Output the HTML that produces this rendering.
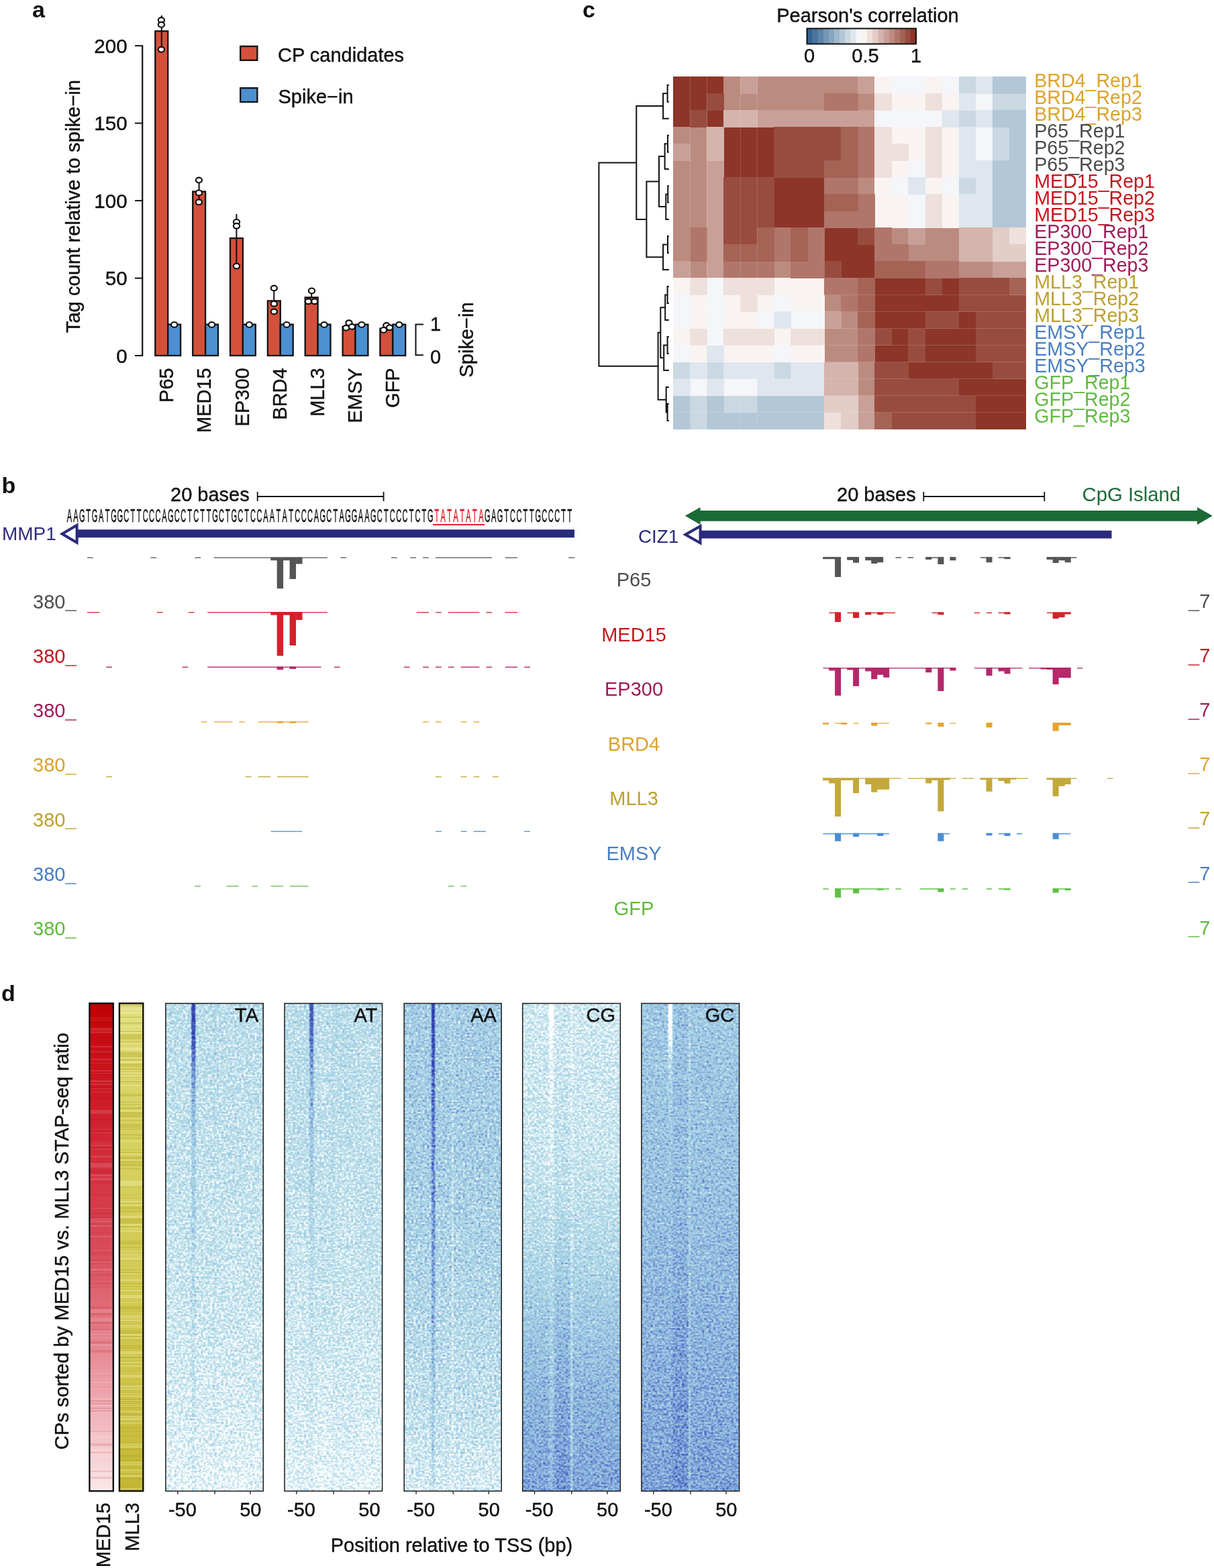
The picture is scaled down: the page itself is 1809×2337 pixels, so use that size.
<!DOCTYPE html>
<html lang="en"><head><meta charset="utf-8"><title>Figure</title>
<style>
html,body{margin:0;padding:0;background:#fff}
svg{display:block}
text{font-family:"Liberation Sans",Arial,Helvetica,sans-serif;stroke-width:0.4px}
</style></head>
<body>
<svg width="1809" height="2337" viewBox="0 0 1809 2337">
<defs>
<linearGradient id="gR" x1="0" y1="0" x2="0" y2="1"><stop offset="0" stop-color="#bf0000"/><stop offset="0.05" stop-color="#c50a10"/><stop offset="0.2" stop-color="#cc1c28"/><stop offset="0.35" stop-color="#d33242"/><stop offset="0.5" stop-color="#d94b5a"/><stop offset="0.6" stop-color="#df6672"/><stop offset="0.7" stop-color="#e68590"/><stop offset="0.8" stop-color="#eda5ad"/><stop offset="0.9" stop-color="#f4c6cb"/><stop offset="1" stop-color="#fbe8ea"/></linearGradient>
<linearGradient id="gY" x1="0" y1="0" x2="0" y2="1"><stop offset="0" stop-color="#e3e08a"/><stop offset="0.06" stop-color="#dcd870"/><stop offset="0.3" stop-color="#d6d060"/><stop offset="0.6" stop-color="#d2ca55"/><stop offset="0.85" stop-color="#cbc045"/><stop offset="1" stop-color="#c3b633"/></linearGradient>
<filter id="hf0" x="0" y="0" width="100%" height="100%" color-interpolation-filters="sRGB"><feTurbulence type="fractalNoise" baseFrequency="0.3 0.4" numOctaves="2" seed="3"/><feColorMatrix type="matrix" values="1 0 0 0 0 1 0 0 0 0 1 0 0 0 0 0 0 0 0 1" result="n"/><feTurbulence type="fractalNoise" baseFrequency="0.03 0.45" numOctaves="1" seed="53"/><feColorMatrix type="matrix" values="1 0 0 0 0 1 0 0 0 0 1 0 0 0 0 0 0 0 0 1" result="n2"/><feComposite in="n" in2="n2" operator="arithmetic" k1="0" k2="0.5" k3="0.1406" k4="0" result="ns"/><feComposite in="SourceGraphic" in2="ns" operator="arithmetic" k1="0" k2="1.2000" k3="2.1333" k4="-0.8833"/><feComponentTransfer><feFuncR type="table" tableValues="1 0.95 0.70 0.68 0.66 0.61 0.54 0.46 0.38 0.30 0.23 0.19 0.17"/><feFuncG type="table" tableValues="1 0.975 0.86 0.85 0.83 0.78 0.70 0.61 0.51 0.40 0.30 0.25 0.22"/><feFuncB type="table" tableValues="1 0.985 0.91 0.90 0.90 0.885 0.865 0.84 0.81 0.77 0.72 0.68 0.66"/></feComponentTransfer><feConvolveMatrix order="3" kernelMatrix="1 2 1 2 5 2 1 2 1" edgeMode="duplicate" preserveAlpha="true"/><feComposite in2="SourceAlpha" operator="in"/></filter>
<linearGradient id="gm0" x1="0" y1="0" x2="0" y2="1"><stop offset="0" stop-color="#585858"/><stop offset="0.3" stop-color="#525252"/><stop offset="0.6" stop-color="#4b4b4b"/><stop offset="0.85" stop-color="#404040"/><stop offset="1" stop-color="#363636"/></linearGradient>
<linearGradient id="gs0_0w" x1="0" y1="0" x2="0" y2="1"><stop offset="0" stop-color="#fff" stop-opacity="0.915"/><stop offset="0.08" stop-color="#fff" stop-opacity="0.79"/><stop offset="0.15" stop-color="#fff" stop-opacity="0.5"/><stop offset="0.24" stop-color="#fff" stop-opacity="0.257"/><stop offset="0.3" stop-color="#fff" stop-opacity="0.224"/><stop offset="0.5" stop-color="#fff" stop-opacity="0.122"/><stop offset="0.6" stop-color="#fff" stop-opacity="0.094"/><stop offset="0.85" stop-color="#fff" stop-opacity="0.056"/><stop offset="1" stop-color="#fff" stop-opacity="0.049"/></linearGradient>
<linearGradient id="gs0_1w" x1="0" y1="0" x2="0" y2="1"><stop offset="0" stop-color="#fff" stop-opacity="0.102"/><stop offset="0.3" stop-color="#fff" stop-opacity="0.067"/><stop offset="0.6" stop-color="#fff" stop-opacity="0.043"/><stop offset="0.85" stop-color="#fff" stop-opacity="0.051"/><stop offset="1" stop-color="#fff" stop-opacity="0.07"/></linearGradient>
<filter id="hf1" x="0" y="0" width="100%" height="100%" color-interpolation-filters="sRGB"><feTurbulence type="fractalNoise" baseFrequency="0.3 0.4" numOctaves="2" seed="8"/><feColorMatrix type="matrix" values="1 0 0 0 0 1 0 0 0 0 1 0 0 0 0 0 0 0 0 1" result="n"/><feTurbulence type="fractalNoise" baseFrequency="0.03 0.45" numOctaves="1" seed="58"/><feColorMatrix type="matrix" values="1 0 0 0 0 1 0 0 0 0 1 0 0 0 0 0 0 0 0 1" result="n2"/><feComposite in="n" in2="n2" operator="arithmetic" k1="0" k2="0.5" k3="0.1406" k4="0" result="ns"/><feComposite in="SourceGraphic" in2="ns" operator="arithmetic" k1="0" k2="1.2000" k3="2.1333" k4="-0.8833"/><feComponentTransfer><feFuncR type="table" tableValues="1 0.95 0.70 0.68 0.66 0.61 0.54 0.46 0.38 0.30 0.23 0.19 0.17"/><feFuncG type="table" tableValues="1 0.975 0.86 0.85 0.83 0.78 0.70 0.61 0.51 0.40 0.30 0.25 0.22"/><feFuncB type="table" tableValues="1 0.985 0.91 0.90 0.90 0.885 0.865 0.84 0.81 0.77 0.72 0.68 0.66"/></feComponentTransfer><feConvolveMatrix order="3" kernelMatrix="1 2 1 2 5 2 1 2 1" edgeMode="duplicate" preserveAlpha="true"/><feComposite in2="SourceAlpha" operator="in"/></filter>
<linearGradient id="gm1" x1="0" y1="0" x2="0" y2="1"><stop offset="0" stop-color="#595959"/><stop offset="0.3" stop-color="#545454"/><stop offset="0.6" stop-color="#4c4c4c"/><stop offset="0.85" stop-color="#414141"/><stop offset="1" stop-color="#373737"/></linearGradient>
<linearGradient id="gs1_0w" x1="0" y1="0" x2="0" y2="1"><stop offset="0" stop-color="#fff" stop-opacity="0.786"/><stop offset="0.07" stop-color="#fff" stop-opacity="0.661"/><stop offset="0.15" stop-color="#fff" stop-opacity="0.37"/><stop offset="0.3" stop-color="#fff" stop-opacity="0.217"/><stop offset="0.4" stop-color="#fff" stop-opacity="0.12"/><stop offset="0.6" stop-color="#fff" stop-opacity="0.071"/><stop offset="0.85" stop-color="#fff" stop-opacity="0.043"/><stop offset="1" stop-color="#fff" stop-opacity="0.043"/></linearGradient>
<linearGradient id="gs1_1w" x1="0" y1="0" x2="0" y2="1"><stop offset="0" stop-color="#fff" stop-opacity="0.103"/><stop offset="0.3" stop-color="#fff" stop-opacity="0.068"/><stop offset="0.6" stop-color="#fff" stop-opacity="0.043"/><stop offset="0.85" stop-color="#fff" stop-opacity="0.051"/><stop offset="1" stop-color="#fff" stop-opacity="0.071"/></linearGradient>
<filter id="hf2" x="0" y="0" width="100%" height="100%" color-interpolation-filters="sRGB"><feTurbulence type="fractalNoise" baseFrequency="0.3 0.4" numOctaves="2" seed="13"/><feColorMatrix type="matrix" values="1 0 0 0 0 1 0 0 0 0 1 0 0 0 0 0 0 0 0 1" result="n"/><feTurbulence type="fractalNoise" baseFrequency="0.03 0.45" numOctaves="1" seed="63"/><feColorMatrix type="matrix" values="1 0 0 0 0 1 0 0 0 0 1 0 0 0 0 0 0 0 0 1" result="n2"/><feComposite in="n" in2="n2" operator="arithmetic" k1="0" k2="0.5" k3="0.1184" k4="0" result="ns"/><feComposite in="SourceGraphic" in2="ns" operator="arithmetic" k1="0" k2="1.2000" k3="2.5333" k4="-0.9833"/><feComponentTransfer><feFuncR type="table" tableValues="1 0.95 0.70 0.68 0.66 0.61 0.54 0.46 0.38 0.30 0.23 0.19 0.17"/><feFuncG type="table" tableValues="1 0.975 0.86 0.85 0.83 0.78 0.70 0.61 0.51 0.40 0.30 0.25 0.22"/><feFuncB type="table" tableValues="1 0.985 0.91 0.90 0.90 0.885 0.865 0.84 0.81 0.77 0.72 0.68 0.66"/></feComponentTransfer><feConvolveMatrix order="3" kernelMatrix="1 2 1 2 5 2 1 2 1" edgeMode="duplicate" preserveAlpha="true"/><feComposite in2="SourceAlpha" operator="in"/></filter>
<linearGradient id="gm2" x1="0" y1="0" x2="0" y2="1"><stop offset="0" stop-color="#717171"/><stop offset="0.3" stop-color="#717171"/><stop offset="0.6" stop-color="#636363"/><stop offset="0.85" stop-color="#515151"/><stop offset="1" stop-color="#414141"/></linearGradient>
<linearGradient id="gs2_0w" x1="0" y1="0" x2="0" y2="1"><stop offset="0" stop-color="#fff" stop-opacity="0.95"/><stop offset="0.1" stop-color="#fff" stop-opacity="0.8"/><stop offset="0.25" stop-color="#fff" stop-opacity="0.55"/><stop offset="0.3" stop-color="#fff" stop-opacity="0.51"/><stop offset="0.5" stop-color="#fff" stop-opacity="0.391"/><stop offset="0.6" stop-color="#fff" stop-opacity="0.318"/><stop offset="0.85" stop-color="#fff" stop-opacity="0.187"/><stop offset="1" stop-color="#fff" stop-opacity="0.142"/></linearGradient>
<linearGradient id="gs2_1k" x1="0" y1="0" x2="0" y2="1"><stop offset="0" stop-color="#000" stop-opacity="0.125"/><stop offset="0.3" stop-color="#000" stop-opacity="0.245"/><stop offset="0.6" stop-color="#000" stop-opacity="0.274"/><stop offset="0.85" stop-color="#000" stop-opacity="0.249"/><stop offset="1" stop-color="#000" stop-opacity="0.174"/></linearGradient>
<filter id="hf3" x="0" y="0" width="100%" height="100%" color-interpolation-filters="sRGB"><feTurbulence type="fractalNoise" baseFrequency="0.3 0.4" numOctaves="2" seed="21"/><feColorMatrix type="matrix" values="1 0 0 0 0 1 0 0 0 0 1 0 0 0 0 0 0 0 0 1" result="n"/><feTurbulence type="fractalNoise" baseFrequency="0.03 0.45" numOctaves="1" seed="71"/><feColorMatrix type="matrix" values="1 0 0 0 0 1 0 0 0 0 1 0 0 0 0 0 0 0 0 1" result="n2"/><feComposite in="n" in2="n2" operator="arithmetic" k1="0" k2="0.5" k3="0.1406" k4="0" result="ns"/><feComposite in="SourceGraphic" in2="ns" operator="arithmetic" k1="0" k2="1.2000" k3="2.1333" k4="-0.8833"/><feComponentTransfer><feFuncR type="table" tableValues="1 0.95 0.70 0.68 0.66 0.61 0.54 0.46 0.38 0.30 0.23 0.19 0.17"/><feFuncG type="table" tableValues="1 0.975 0.86 0.85 0.83 0.78 0.70 0.61 0.51 0.40 0.30 0.25 0.22"/><feFuncB type="table" tableValues="1 0.985 0.91 0.90 0.90 0.885 0.865 0.84 0.81 0.77 0.72 0.68 0.66"/></feComponentTransfer><feConvolveMatrix order="3" kernelMatrix="1 2 1 2 5 2 1 2 1" edgeMode="duplicate" preserveAlpha="true"/><feComposite in2="SourceAlpha" operator="in"/></filter>
<linearGradient id="gm3" x1="0" y1="0" x2="0" y2="1"><stop offset="0" stop-color="#474747"/><stop offset="0.3" stop-color="#4b4b4b"/><stop offset="0.5" stop-color="#5e5e5e"/><stop offset="0.65" stop-color="#787878"/><stop offset="0.8" stop-color="#8e8e8e"/><stop offset="1" stop-color="#9c9c9c"/></linearGradient>
<linearGradient id="gs3_0k" x1="0" y1="0" x2="0" y2="1"><stop offset="0" stop-color="#000" stop-opacity="1.0"/><stop offset="0.06" stop-color="#000" stop-opacity="0.605"/><stop offset="0.12" stop-color="#000" stop-opacity="0.297"/><stop offset="0.3" stop-color="#000" stop-opacity="0.151"/><stop offset="0.45" stop-color="#000" stop-opacity="0.112"/><stop offset="0.5" stop-color="#000" stop-opacity="0.094"/><stop offset="0.65" stop-color="#000" stop-opacity="0.155"/><stop offset="0.8" stop-color="#000" stop-opacity="0.161"/><stop offset="1" stop-color="#000" stop-opacity="0.091"/></linearGradient>
<linearGradient id="gs3_1w" x1="0" y1="0" x2="0" y2="1"><stop offset="0" stop-color="#fff" stop-opacity="0.0"/><stop offset="0.3" stop-color="#fff" stop-opacity="0.044"/><stop offset="0.4" stop-color="#fff" stop-opacity="0.017"/><stop offset="0.5" stop-color="#fff" stop-opacity="0.07"/><stop offset="0.65" stop-color="#fff" stop-opacity="0.082"/><stop offset="0.7" stop-color="#fff" stop-opacity="0.1"/><stop offset="0.8" stop-color="#fff" stop-opacity="0.071"/><stop offset="1" stop-color="#fff" stop-opacity="0.129"/></linearGradient>
<linearGradient id="gs3_2k" x1="0" y1="0" x2="0" y2="1"><stop offset="0" stop-color="#000" stop-opacity="0.28"/><stop offset="0.3" stop-color="#000" stop-opacity="0.14"/><stop offset="0.5" stop-color="#000" stop-opacity="0.212"/><stop offset="0.65" stop-color="#000" stop-opacity="0.289"/><stop offset="0.8" stop-color="#000" stop-opacity="0.312"/><stop offset="1" stop-color="#000" stop-opacity="0.273"/></linearGradient>
<filter id="hf4" x="0" y="0" width="100%" height="100%" color-interpolation-filters="sRGB"><feTurbulence type="fractalNoise" baseFrequency="0.3 0.4" numOctaves="2" seed="34"/><feColorMatrix type="matrix" values="1 0 0 0 0 1 0 0 0 0 1 0 0 0 0 0 0 0 0 1" result="n"/><feTurbulence type="fractalNoise" baseFrequency="0.03 0.45" numOctaves="1" seed="84"/><feColorMatrix type="matrix" values="1 0 0 0 0 1 0 0 0 0 1 0 0 0 0 0 0 0 0 1" result="n2"/><feComposite in="n" in2="n2" operator="arithmetic" k1="0" k2="0.5" k3="0.1406" k4="0" result="ns"/><feComposite in="SourceGraphic" in2="ns" operator="arithmetic" k1="0" k2="1.2000" k3="2.1333" k4="-0.8833"/><feComponentTransfer><feFuncR type="table" tableValues="1 0.95 0.70 0.68 0.66 0.61 0.54 0.46 0.38 0.30 0.23 0.19 0.17"/><feFuncG type="table" tableValues="1 0.975 0.86 0.85 0.83 0.78 0.70 0.61 0.51 0.40 0.30 0.25 0.22"/><feFuncB type="table" tableValues="1 0.985 0.91 0.90 0.90 0.885 0.865 0.84 0.81 0.77 0.72 0.68 0.66"/></feComponentTransfer><feConvolveMatrix order="3" kernelMatrix="1 2 1 2 5 2 1 2 1" edgeMode="duplicate" preserveAlpha="true"/><feComposite in2="SourceAlpha" operator="in"/></filter>
<linearGradient id="gm4" x1="0" y1="0" x2="0" y2="1"><stop offset="0" stop-color="#787878"/><stop offset="0.4" stop-color="#818181"/><stop offset="0.7" stop-color="#909090"/><stop offset="1" stop-color="#9f9f9f"/></linearGradient>
<linearGradient id="gs4_0k" x1="0" y1="0" x2="0" y2="1"><stop offset="0" stop-color="#000" stop-opacity="1.0"/><stop offset="0.05" stop-color="#000" stop-opacity="0.942"/><stop offset="0.09" stop-color="#000" stop-opacity="0.537"/><stop offset="0.14" stop-color="#000" stop-opacity="0.196"/><stop offset="0.25" stop-color="#000" stop-opacity="0.068"/><stop offset="0.4" stop-color="#000" stop-opacity="0.032"/><stop offset="0.5" stop-color="#000" stop-opacity="0.032"/><stop offset="0.7" stop-color="#000" stop-opacity="0.022"/><stop offset="1" stop-color="#000" stop-opacity="0"/></linearGradient>
<linearGradient id="gs4_1w" x1="0" y1="0" x2="0" y2="1"><stop offset="0" stop-color="#fff" stop-opacity="0.042"/><stop offset="0.4" stop-color="#fff" stop-opacity="0.056"/><stop offset="0.7" stop-color="#fff" stop-opacity="0.115"/><stop offset="1" stop-color="#fff" stop-opacity="0.132"/></linearGradient>
<linearGradient id="gs4_2k" x1="0" y1="0" x2="0" y2="1"><stop offset="0" stop-color="#000" stop-opacity="0.235"/><stop offset="0.4" stop-color="#000" stop-opacity="0.189"/><stop offset="0.7" stop-color="#000" stop-opacity="0.212"/><stop offset="1" stop-color="#000" stop-opacity="0.223"/></linearGradient>
</defs>
<rect width="1809" height="2337" fill="#fff"/>
<g id="panel-a">
<text x="48" y="25.5" font-size="34" text-anchor="start" fill="#111" font-weight="bold">a</text>
<path d="M212.2 68.2V530.0" stroke="#111" stroke-width="2.2" fill="none"/>
<path d="M201 530.0H213.2" stroke="#111" stroke-width="2" fill="none"/>
<text x="189.7" y="540.6" font-size="29.6" text-anchor="end" fill="#111" stroke="#111">0</text>
<path d="M201 414.6H213.2" stroke="#111" stroke-width="2" fill="none"/>
<text x="189.7" y="425.2" font-size="29.6" text-anchor="end" fill="#111" stroke="#111">50</text>
<path d="M201 299.1H213.2" stroke="#111" stroke-width="2" fill="none"/>
<text x="189.7" y="309.7" font-size="29.6" text-anchor="end" fill="#111" stroke="#111">100</text>
<path d="M201 183.6H213.2" stroke="#111" stroke-width="2" fill="none"/>
<text x="189.7" y="194.2" font-size="29.6" text-anchor="end" fill="#111" stroke="#111">150</text>
<path d="M201 68.2H213.2" stroke="#111" stroke-width="2" fill="none"/>
<text x="189.7" y="78.8" font-size="29.6" text-anchor="end" fill="#111" stroke="#111">200</text>
<text x="119.4" y="307.6" font-size="29.2" text-anchor="middle" fill="#111" stroke="#111" transform="rotate(-90 119.4 307.6)">Tag count relative to spike−in</text>
<rect x="231.3" y="46.4" width="18.9" height="483.6" fill="#d3513b" stroke="#111" stroke-width="2.3"/>
<rect x="250.2" y="483.6" width="18.9" height="46.4" fill="#4c90d1" stroke="#111" stroke-width="2.3"/>
<path d="M240.8 23V73.8" stroke="#111" stroke-width="2"/>
<ellipse cx="240.4" cy="30" rx="4.6" ry="3.9" fill="#fff" stroke="#111" stroke-width="2.2"/>
<ellipse cx="240.4" cy="36.7" rx="4.6" ry="3.9" fill="#fff" stroke="#111" stroke-width="2.2"/>
<ellipse cx="240.4" cy="73.8" rx="4.6" ry="3.9" fill="#fff" stroke="#111" stroke-width="2.2"/>
<ellipse cx="259.7" cy="483.90000000000003" rx="4.6" ry="3.9" fill="#fff" stroke="#111" stroke-width="2.2"/>
<text x="258.3" y="548.3" font-size="29" text-anchor="end" fill="#111" stroke="#111" transform="rotate(-90 258.3 548.3)">P65</text>
<rect x="287.2" y="285.5" width="18.9" height="244.5" fill="#d3513b" stroke="#111" stroke-width="2.3"/>
<rect x="306.1" y="483.6" width="18.9" height="46.4" fill="#4c90d1" stroke="#111" stroke-width="2.3"/>
<path d="M296.6 268V301" stroke="#111" stroke-width="2"/>
<ellipse cx="296.4" cy="268.5" rx="4.6" ry="3.9" fill="#fff" stroke="#111" stroke-width="2.2"/>
<ellipse cx="296.4" cy="287.4" rx="4.6" ry="3.9" fill="#fff" stroke="#111" stroke-width="2.2"/>
<ellipse cx="296.4" cy="301.3" rx="4.6" ry="3.9" fill="#fff" stroke="#111" stroke-width="2.2"/>
<ellipse cx="315.5" cy="483.90000000000003" rx="4.6" ry="3.9" fill="#fff" stroke="#111" stroke-width="2.2"/>
<text x="314.5" y="548.3" font-size="29" text-anchor="end" fill="#111" stroke="#111" transform="rotate(-90 314.5 548.3)">MED15</text>
<rect x="343.0" y="355" width="18.9" height="175.0" fill="#d3513b" stroke="#111" stroke-width="2.3"/>
<rect x="361.9" y="483.6" width="18.9" height="46.4" fill="#4c90d1" stroke="#111" stroke-width="2.3"/>
<path d="M352.4 319V396.6" stroke="#111" stroke-width="2"/>
<ellipse cx="352.5" cy="330.9" rx="4.6" ry="3.9" fill="#fff" stroke="#111" stroke-width="2.2"/>
<ellipse cx="352.5" cy="336.8" rx="4.6" ry="3.9" fill="#fff" stroke="#111" stroke-width="2.2"/>
<ellipse cx="352.5" cy="396.6" rx="4.6" ry="3.9" fill="#fff" stroke="#111" stroke-width="2.2"/>
<ellipse cx="371.4" cy="483.90000000000003" rx="4.6" ry="3.9" fill="#fff" stroke="#111" stroke-width="2.2"/>
<text x="370.7" y="548.3" font-size="29" text-anchor="end" fill="#111" stroke="#111" transform="rotate(-90 370.7 548.3)">EP300</text>
<rect x="398.9" y="448.4" width="18.9" height="81.6" fill="#d3513b" stroke="#111" stroke-width="2.3"/>
<rect x="417.8" y="483.6" width="18.9" height="46.4" fill="#4c90d1" stroke="#111" stroke-width="2.3"/>
<path d="M408.3 429.5V448.4" stroke="#111" stroke-width="2"/>
<ellipse cx="408.3" cy="429.5" rx="4.6" ry="3.9" fill="#fff" stroke="#111" stroke-width="2.2"/>
<ellipse cx="408.3" cy="452.7" rx="4.6" ry="3.9" fill="#fff" stroke="#111" stroke-width="2.2"/>
<ellipse cx="408.3" cy="464.5" rx="4.6" ry="3.9" fill="#fff" stroke="#111" stroke-width="2.2"/>
<ellipse cx="427.2" cy="483.90000000000003" rx="4.6" ry="3.9" fill="#fff" stroke="#111" stroke-width="2.2"/>
<text x="426.9" y="548.3" font-size="29" text-anchor="end" fill="#111" stroke="#111" transform="rotate(-90 426.9 548.3)">BRD4</text>
<rect x="454.7" y="443.3" width="18.9" height="86.7" fill="#d3513b" stroke="#111" stroke-width="2.3"/>
<rect x="473.6" y="483.6" width="18.9" height="46.4" fill="#4c90d1" stroke="#111" stroke-width="2.3"/>
<path d="M464.2 433.4V443.3" stroke="#111" stroke-width="2"/>
<ellipse cx="464.5" cy="433.4" rx="4.6" ry="3.9" fill="#fff" stroke="#111" stroke-width="2.2"/>
<ellipse cx="459.4" cy="449.3" rx="4.6" ry="3.9" fill="#fff" stroke="#111" stroke-width="2.2"/>
<ellipse cx="468.8" cy="449.3" rx="4.6" ry="3.9" fill="#fff" stroke="#111" stroke-width="2.2"/>
<ellipse cx="483.1" cy="483.90000000000003" rx="4.6" ry="3.9" fill="#fff" stroke="#111" stroke-width="2.2"/>
<text x="483.1" y="548.3" font-size="29" text-anchor="end" fill="#111" stroke="#111" transform="rotate(-90 483.1 548.3)">MLL3</text>
<rect x="510.6" y="487" width="18.9" height="43.0" fill="#d3513b" stroke="#111" stroke-width="2.3"/>
<rect x="529.5" y="483.6" width="18.9" height="46.4" fill="#4c90d1" stroke="#111" stroke-width="2.3"/>
<ellipse cx="520" cy="481.2" rx="4.6" ry="3.9" fill="#fff" stroke="#111" stroke-width="2.2"/>
<ellipse cx="515.7" cy="488.7" rx="4.6" ry="3.9" fill="#fff" stroke="#111" stroke-width="2.2"/>
<ellipse cx="524.5" cy="487" rx="4.6" ry="3.9" fill="#fff" stroke="#111" stroke-width="2.2"/>
<ellipse cx="538.9" cy="483.90000000000003" rx="4.6" ry="3.9" fill="#fff" stroke="#111" stroke-width="2.2"/>
<text x="539.3" y="548.3" font-size="29" text-anchor="end" fill="#111" stroke="#111" transform="rotate(-90 539.3 548.3)">EMSY</text>
<rect x="566.4" y="489.6" width="18.9" height="40.4" fill="#d3513b" stroke="#111" stroke-width="2.3"/>
<rect x="585.3" y="483.6" width="18.9" height="46.4" fill="#4c90d1" stroke="#111" stroke-width="2.3"/>
<ellipse cx="575.9" cy="485" rx="4.6" ry="3.9" fill="#fff" stroke="#111" stroke-width="2.2"/>
<ellipse cx="571.6" cy="491.9" rx="4.6" ry="3.9" fill="#fff" stroke="#111" stroke-width="2.2"/>
<ellipse cx="580.6" cy="488.3" rx="4.6" ry="3.9" fill="#fff" stroke="#111" stroke-width="2.2"/>
<ellipse cx="594.8" cy="483.90000000000003" rx="4.6" ry="3.9" fill="#fff" stroke="#111" stroke-width="2.2"/>
<text x="595.5" y="548.3" font-size="29" text-anchor="end" fill="#111" stroke="#111" transform="rotate(-90 595.5 548.3)">GFP</text>
<path d="M631 483.4H619.5V529.3H631" stroke="#111" stroke-width="2" fill="none"/>
<text x="641" y="493" font-size="29" text-anchor="start" fill="#111" stroke="#111">1</text>
<text x="641" y="541.5" font-size="29" text-anchor="start" fill="#111" stroke="#111">0</text>
<text x="704.5" y="506.5" font-size="29" text-anchor="middle" fill="#111" stroke="#111" transform="rotate(-90 704.5 506.5)">Spike−in</text>
<rect x="358.2" y="69" width="25.2" height="20.8" fill="#d3513b" stroke="#111" stroke-width="2.3"/>
<rect x="358.2" y="131.2" width="25.2" height="20.8" fill="#4c90d1" stroke="#111" stroke-width="2.3"/>
<text x="414" y="91.5" font-size="29" text-anchor="start" fill="#111" stroke="#111">CP candidates</text>
<text x="414.5" y="153.5" font-size="29" text-anchor="start" fill="#111" stroke="#111">Spike−in</text>
</g>
<g id="panel-c">
<text x="868" y="25.5" font-size="34" text-anchor="start" fill="#111" font-weight="bold">c</text>
<text x="1293" y="32.6" font-size="29" text-anchor="middle" fill="#111" stroke="#111">Pearson's correlation</text>
<rect x="1202.50" y="42.5" width="8.43" height="23.0" fill="#336493"/>
<rect x="1210.62" y="42.5" width="8.43" height="23.0" fill="#49759e"/>
<rect x="1218.75" y="42.5" width="8.43" height="23.0" fill="#5e85a9"/>
<rect x="1226.88" y="42.5" width="8.43" height="23.0" fill="#7496b5"/>
<rect x="1235.00" y="42.5" width="8.43" height="23.0" fill="#89a6c0"/>
<rect x="1243.12" y="42.5" width="8.43" height="23.0" fill="#9fb7cb"/>
<rect x="1251.25" y="42.5" width="8.43" height="23.0" fill="#b4c7d7"/>
<rect x="1259.38" y="42.5" width="8.43" height="23.0" fill="#cad8e2"/>
<rect x="1267.50" y="42.5" width="8.43" height="23.0" fill="#dfe6ee"/>
<rect x="1275.62" y="42.5" width="8.43" height="23.0" fill="#f4f6fa"/>
<rect x="1283.75" y="42.5" width="8.43" height="23.0" fill="#f9f4f2"/>
<rect x="1291.88" y="42.5" width="8.43" height="23.0" fill="#eee0dc"/>
<rect x="1300.00" y="42.5" width="8.43" height="23.0" fill="#e2cdc7"/>
<rect x="1308.12" y="42.5" width="8.43" height="23.0" fill="#d5b4ad"/>
<rect x="1316.25" y="42.5" width="8.43" height="23.0" fill="#c8a098"/>
<rect x="1324.38" y="42.5" width="8.43" height="23.0" fill="#bc8b80"/>
<rect x="1332.50" y="42.5" width="8.43" height="23.0" fill="#b1766b"/>
<rect x="1340.62" y="42.5" width="8.43" height="23.0" fill="#a56356"/>
<rect x="1348.75" y="42.5" width="8.43" height="23.0" fill="#984c3f"/>
<rect x="1356.88" y="42.5" width="8.43" height="23.0" fill="#8c3528"/>
<rect x="1202.5" y="42.5" width="162.5" height="23.0" fill="none" stroke="#111" stroke-width="2"/>
<text x="1206" y="93" font-size="29" text-anchor="middle" fill="#111" stroke="#111">0</text>
<text x="1289.5" y="93" font-size="29" text-anchor="middle" fill="#111" stroke="#111">0.5</text>
<text x="1365" y="93" font-size="29" text-anchor="middle" fill="#111" stroke="#111">1</text>
<path d="M1003.3 114.3H1078.9V139.9H1003.3ZM1003.3 139.3H1053.9V164.9H1003.3ZM1003.3 164.3H1028.9V189.9H1003.3ZM1053.3 164.3H1078.9V189.9H1053.3ZM1078.3 189.3H1154.0V214.9H1078.3ZM1078.3 214.3H1154.0V240.0H1078.3ZM1078.3 239.4H1154.0V265.0H1078.3ZM1153.4 264.4H1229.0V290.0H1153.4ZM1153.4 289.4H1229.0V315.0H1153.4ZM1153.4 314.4H1229.0V340.0H1153.4ZM1228.4 339.4H1279.0V365.0H1228.4ZM1228.4 364.4H1304.0V390.0H1228.4ZM1253.4 389.4H1304.0V415.0H1253.4ZM1303.4 414.4H1379.0V440.0H1303.4ZM1403.5 414.4H1429.1V440.0H1403.5ZM1303.4 439.4H1429.1V465.0H1303.4ZM1303.4 464.4H1379.0V490.1H1303.4ZM1428.5 464.4H1454.1V490.1H1428.5ZM1328.4 489.5H1354.0V515.1H1328.4ZM1378.5 489.5H1454.1V515.1H1378.5ZM1303.4 514.5H1354.0V540.1H1303.4ZM1378.5 514.5H1454.1V540.1H1378.5ZM1353.4 539.5H1479.1V565.1H1353.4ZM1428.5 564.5H1528.5V590.1H1428.5ZM1453.5 589.5H1528.5V615.1H1453.5ZM1453.5 614.5H1528.5V639.5H1453.5Z" fill="#8c3528" shape-rendering="crispEdges"/>
<path d="M1078.3 114.3H1103.9V139.9H1078.3ZM1128.3 114.3H1279.0V139.9H1128.3ZM1078.3 139.3H1229.0V164.9H1078.3ZM1278.4 139.3H1304.0V164.9H1278.4ZM1003.3 189.3H1053.9V214.9H1003.3ZM1028.3 214.3H1053.9V240.0H1028.3ZM1003.3 239.4H1053.9V265.0H1003.3ZM1003.3 264.4H1053.9V290.0H1003.3ZM1278.4 264.4H1304.0V290.0H1278.4ZM1003.3 289.4H1053.9V315.0H1003.3ZM1003.3 314.4H1053.9V340.0H1003.3ZM1003.3 339.4H1028.9V365.0H1003.3ZM1328.4 339.4H1354.0V365.0H1328.4ZM1378.5 339.4H1429.1V365.0H1378.5ZM1003.3 364.4H1028.9V390.0H1003.3ZM1353.4 364.4H1429.1V390.0H1353.4ZM1028.3 389.4H1053.9V415.0H1028.3ZM1153.4 389.4H1179.0V415.0H1153.4ZM1428.5 389.4H1479.1V415.0H1428.5ZM1228.4 439.4H1254.0V465.0H1228.4ZM1253.4 464.4H1279.0V490.1H1253.4ZM1228.4 489.5H1279.0V515.1H1228.4ZM1228.4 514.5H1279.0V540.1H1228.4ZM1278.4 539.5H1304.0V565.1H1278.4ZM1278.4 564.5H1304.0V590.1H1278.4Z" fill="#bc8b80" shape-rendering="crispEdges"/>
<path d="M1103.3 114.3H1128.9V139.9H1103.3ZM1278.4 114.3H1304.0V139.9H1278.4ZM1128.3 164.3H1304.0V189.9H1128.3ZM1003.3 214.3H1028.9V240.0H1003.3ZM1053.3 239.4H1078.9V265.0H1053.3ZM1053.3 264.4H1078.9V290.0H1053.3ZM1053.3 289.4H1078.9V315.0H1053.3ZM1053.3 314.4H1078.9V340.0H1053.3ZM1053.3 339.4H1078.9V365.0H1053.3ZM1353.4 339.4H1379.0V365.0H1353.4ZM1053.3 364.4H1078.9V390.0H1053.3ZM1003.3 389.4H1028.9V415.0H1003.3ZM1053.3 389.4H1078.9V415.0H1053.3ZM1478.5 389.4H1528.5V415.0H1478.5ZM1228.4 464.4H1254.0V490.1H1228.4ZM1278.4 589.5H1304.0V615.1H1278.4ZM1278.4 614.5H1304.0V639.5H1278.4Z" fill="#c8a098" shape-rendering="crispEdges"/>
<path d="M1303.4 114.3H1329.0V139.9H1303.4ZM1378.5 114.3H1404.1V139.9H1378.5ZM1328.4 139.3H1379.0V164.9H1328.4ZM1403.5 139.3H1429.1V164.9H1403.5ZM1328.4 189.3H1379.0V214.9H1328.4ZM1403.5 189.3H1429.1V214.9H1403.5ZM1353.4 214.3H1379.0V240.0H1353.4ZM1403.5 214.3H1429.1V240.0H1403.5ZM1328.4 239.4H1354.0V265.0H1328.4ZM1403.5 239.4H1429.1V265.0H1403.5ZM1303.4 264.4H1329.0V290.0H1303.4ZM1378.5 264.4H1404.1V290.0H1378.5ZM1303.4 289.4H1354.0V315.0H1303.4ZM1403.5 289.4H1429.1V315.0H1403.5ZM1303.4 314.4H1354.0V340.0H1303.4ZM1403.5 314.4H1429.1V340.0H1403.5ZM1003.3 414.4H1028.9V440.0H1003.3ZM1153.4 414.4H1229.0V440.0H1153.4ZM1028.3 439.4H1053.9V465.0H1028.3ZM1078.3 439.4H1103.9V465.0H1078.3ZM1128.3 439.4H1154.0V465.0H1128.3ZM1178.4 439.4H1229.0V465.0H1178.4ZM1028.3 464.4H1053.9V490.1H1028.3ZM1078.3 464.4H1128.9V490.1H1078.3ZM1003.3 489.5H1028.9V515.1H1003.3ZM1153.4 489.5H1179.0V515.1H1153.4ZM1028.3 514.5H1053.9V540.1H1028.3ZM1078.3 514.5H1154.0V540.1H1078.3ZM1178.4 514.5H1229.0V540.1H1178.4Z" fill="#f9f4f2" shape-rendering="crispEdges"/>
<path d="M1328.4 114.3H1379.0V139.9H1328.4ZM1403.5 114.3H1429.1V139.9H1403.5ZM1453.5 139.3H1479.1V164.9H1453.5ZM1303.4 164.3H1404.1V189.9H1303.4ZM1453.5 189.3H1479.1V214.9H1453.5ZM1453.5 214.3H1479.1V240.0H1453.5ZM1353.4 239.4H1379.0V265.0H1353.4ZM1328.4 264.4H1354.0V290.0H1328.4ZM1403.5 264.4H1429.1V290.0H1403.5ZM1353.4 289.4H1379.0V315.0H1353.4ZM1353.4 314.4H1379.0V340.0H1353.4ZM1053.3 414.4H1078.9V440.0H1053.3ZM1003.3 439.4H1028.9V465.0H1003.3ZM1053.3 439.4H1078.9V465.0H1053.3ZM1153.4 439.4H1179.0V465.0H1153.4ZM1003.3 464.4H1028.9V490.1H1003.3ZM1053.3 464.4H1078.9V490.1H1053.3ZM1128.3 464.4H1154.0V490.1H1128.3ZM1178.4 464.4H1229.0V490.1H1178.4ZM1053.3 489.5H1078.9V515.1H1053.3ZM1003.3 514.5H1028.9V540.1H1003.3ZM1153.4 514.5H1179.0V540.1H1153.4ZM1028.3 564.5H1053.9V590.1H1028.3ZM1078.3 564.5H1128.9V590.1H1078.3Z" fill="#f4f6fa" shape-rendering="crispEdges"/>
<path d="M1428.5 114.3H1454.1V139.9H1428.5ZM1478.5 139.3H1528.5V164.9H1478.5ZM1428.5 164.3H1454.1V189.9H1428.5ZM1478.5 189.3H1504.1V214.9H1478.5ZM1478.5 214.3H1504.1V240.0H1478.5ZM1428.5 264.4H1454.1V290.0H1428.5ZM1003.3 539.5H1028.9V565.1H1003.3ZM1053.3 539.5H1078.9V565.1H1053.3ZM1153.4 539.5H1179.0V565.1H1153.4ZM1028.3 589.5H1053.9V615.1H1028.3ZM1078.3 589.5H1128.9V615.1H1078.3ZM1028.3 614.5H1053.9V639.5H1028.3Z" fill="#cad8e2" shape-rendering="crispEdges"/>
<path d="M1453.5 114.3H1479.1V139.9H1453.5ZM1428.5 139.3H1454.1V164.9H1428.5ZM1403.5 164.3H1429.1V189.9H1403.5ZM1453.5 164.3H1479.1V189.9H1453.5ZM1428.5 189.3H1454.1V214.9H1428.5ZM1428.5 214.3H1454.1V240.0H1428.5ZM1428.5 239.4H1479.1V265.0H1428.5ZM1353.4 264.4H1379.0V290.0H1353.4ZM1453.5 264.4H1479.1V290.0H1453.5ZM1428.5 289.4H1479.1V315.0H1428.5ZM1428.5 314.4H1479.1V340.0H1428.5ZM1153.4 464.4H1179.0V490.1H1153.4ZM1053.3 514.5H1078.9V540.1H1053.3ZM1028.3 539.5H1053.9V565.1H1028.3ZM1078.3 539.5H1154.0V565.1H1078.3ZM1178.4 539.5H1229.0V565.1H1178.4ZM1003.3 564.5H1028.9V590.1H1003.3ZM1053.3 564.5H1078.9V590.1H1053.3ZM1128.3 564.5H1229.0V590.1H1128.3Z" fill="#dfe6ee" shape-rendering="crispEdges"/>
<path d="M1478.5 114.3H1528.5V139.9H1478.5ZM1478.5 164.3H1528.5V189.9H1478.5ZM1503.5 189.3H1528.5V214.9H1503.5ZM1503.5 214.3H1528.5V240.0H1503.5ZM1478.5 239.4H1528.5V265.0H1478.5ZM1478.5 264.4H1528.5V290.0H1478.5ZM1478.5 289.4H1528.5V315.0H1478.5ZM1478.5 314.4H1528.5V340.0H1478.5ZM1003.3 589.5H1028.9V615.1H1003.3ZM1053.3 589.5H1078.9V615.1H1053.3ZM1128.3 589.5H1229.0V615.1H1128.3ZM1003.3 614.5H1028.9V639.5H1003.3ZM1053.3 614.5H1229.0V639.5H1053.3Z" fill="#b4c7d7" shape-rendering="crispEdges"/>
<path d="M1053.3 139.3H1078.9V164.9H1053.3ZM1028.3 164.3H1053.9V189.9H1028.3ZM1153.4 189.3H1254.0V214.9H1153.4ZM1153.4 214.3H1254.0V240.0H1153.4ZM1153.4 239.4H1229.0V265.0H1153.4ZM1078.3 264.4H1154.0V290.0H1078.3ZM1078.3 289.4H1154.0V315.0H1078.3ZM1078.3 314.4H1154.0V340.0H1078.3ZM1078.3 339.4H1128.9V365.0H1078.3ZM1278.4 339.4H1304.0V365.0H1278.4ZM1228.4 389.4H1254.0V415.0H1228.4ZM1378.5 414.4H1404.1V440.0H1378.5ZM1428.5 414.4H1504.1V440.0H1428.5ZM1428.5 439.4H1528.5V465.0H1428.5ZM1378.5 464.4H1429.1V490.1H1378.5ZM1453.5 464.4H1528.5V490.1H1453.5ZM1303.4 489.5H1329.0V515.1H1303.4ZM1353.4 489.5H1379.0V515.1H1353.4ZM1453.5 489.5H1528.5V515.1H1453.5ZM1353.4 514.5H1379.0V540.1H1353.4ZM1453.5 514.5H1528.5V540.1H1453.5ZM1303.4 539.5H1354.0V565.1H1303.4ZM1478.5 539.5H1528.5V565.1H1478.5ZM1303.4 564.5H1429.1V590.1H1303.4ZM1303.4 589.5H1454.1V615.1H1303.4ZM1328.4 614.5H1454.1V639.5H1328.4Z" fill="#984c3f" shape-rendering="crispEdges"/>
<path d="M1228.4 139.3H1279.0V164.9H1228.4ZM1278.4 189.3H1304.0V214.9H1278.4ZM1278.4 214.3H1304.0V240.0H1278.4ZM1278.4 239.4H1304.0V265.0H1278.4ZM1228.4 264.4H1279.0V290.0H1228.4ZM1278.4 289.4H1304.0V315.0H1278.4ZM1228.4 314.4H1304.0V340.0H1228.4ZM1028.3 339.4H1053.9V365.0H1028.3ZM1153.4 339.4H1179.0V365.0H1153.4ZM1203.4 339.4H1229.0V365.0H1203.4ZM1303.4 339.4H1329.0V365.0H1303.4ZM1028.3 364.4H1053.9V390.0H1028.3ZM1153.4 364.4H1179.0V390.0H1153.4ZM1203.4 364.4H1229.0V390.0H1203.4ZM1303.4 364.4H1354.0V390.0H1303.4ZM1078.3 389.4H1154.0V415.0H1078.3ZM1178.4 389.4H1229.0V415.0H1178.4ZM1378.5 389.4H1429.1V415.0H1378.5ZM1228.4 414.4H1279.0V440.0H1228.4ZM1253.4 439.4H1279.0V465.0H1253.4ZM1278.4 489.5H1304.0V515.1H1278.4ZM1278.4 514.5H1304.0V540.1H1278.4Z" fill="#b1766b" shape-rendering="crispEdges"/>
<path d="M1303.4 139.3H1329.0V164.9H1303.4ZM1378.5 139.3H1404.1V164.9H1378.5ZM1303.4 189.3H1329.0V214.9H1303.4ZM1378.5 189.3H1404.1V214.9H1378.5ZM1303.4 214.3H1354.0V240.0H1303.4ZM1378.5 214.3H1404.1V240.0H1378.5ZM1303.4 239.4H1329.0V265.0H1303.4ZM1378.5 239.4H1404.1V265.0H1378.5ZM1378.5 289.4H1404.1V315.0H1378.5ZM1378.5 314.4H1404.1V340.0H1378.5ZM1503.5 339.4H1528.5V365.0H1503.5ZM1028.3 414.4H1053.9V440.0H1028.3ZM1078.3 414.4H1154.0V440.0H1078.3ZM1103.3 439.4H1128.9V465.0H1103.3ZM1028.3 489.5H1053.9V515.1H1028.3ZM1078.3 489.5H1154.0V515.1H1078.3ZM1178.4 489.5H1229.0V515.1H1178.4ZM1228.4 614.5H1254.0V639.5H1228.4Z" fill="#eee0dc" shape-rendering="crispEdges"/>
<path d="M1078.3 164.3H1128.9V189.9H1078.3ZM1053.3 189.3H1078.9V214.9H1053.3ZM1053.3 214.3H1078.9V240.0H1053.3ZM1428.5 339.4H1479.1V365.0H1428.5ZM1428.5 364.4H1479.1V390.0H1428.5ZM1228.4 539.5H1279.0V565.1H1228.4ZM1228.4 564.5H1279.0V590.1H1228.4Z" fill="#d5b4ad" shape-rendering="crispEdges"/>
<path d="M1253.4 189.3H1279.0V214.9H1253.4ZM1253.4 214.3H1279.0V240.0H1253.4ZM1228.4 239.4H1279.0V265.0H1228.4ZM1228.4 289.4H1279.0V315.0H1228.4ZM1128.3 339.4H1154.0V365.0H1128.3ZM1178.4 339.4H1204.0V365.0H1178.4ZM1078.3 364.4H1154.0V390.0H1078.3ZM1178.4 364.4H1204.0V390.0H1178.4ZM1303.4 389.4H1379.0V415.0H1303.4ZM1278.4 414.4H1304.0V440.0H1278.4ZM1503.5 414.4H1528.5V440.0H1503.5ZM1278.4 439.4H1304.0V465.0H1278.4ZM1278.4 464.4H1304.0V490.1H1278.4ZM1303.4 614.5H1329.0V639.5H1303.4Z" fill="#a56356" shape-rendering="crispEdges"/>
<path d="M1478.5 339.4H1504.1V365.0H1478.5ZM1478.5 364.4H1528.5V390.0H1478.5ZM1228.4 589.5H1279.0V615.1H1228.4ZM1253.4 614.5H1279.0V639.5H1253.4Z" fill="#e2cdc7" shape-rendering="crispEdges"/>
<path d="M1028.3 114.3V639.5M1053.3 114.3V639.5M1103.3 114.3V639.5M1128.3 114.3V639.5M1003.3 439.4H1528.5M1003.3 464.4H1528.5M1003.3 489.5H1528.5M1003.3 514.5H1528.5M1003.3 539.5H1528.5M1003.3 564.5H1528.5M1003.3 589.5H1528.5M1003.3 614.5H1528.5" stroke="#fff" stroke-opacity="0.17" stroke-width="1" fill="none"/>
<path d="M996.8 126.8H994.6V151.8H996.8M994.6 139.3H988.1V176.8H996.8M996.8 201.8H995.0V226.8H996.8M995.0 214.3H990.6V251.9H996.8M996.8 276.9H995.3V301.9H996.8M995.3 289.4H992.3V326.9H996.8M996.8 351.9H995.0V376.9H996.8M995.0 364.4H988.1V401.9H996.8M990.6 233.1H982.0V308.1H992.3M982.0 270.6H963.4V383.2H988.1M988.1 158.1H948.3V326.9H963.4M996.8 426.9H994.6V451.9H996.8M994.6 439.4H991.2V476.9H996.8M996.8 502.0H994.6V527.0H996.8M994.6 514.5H989.2V552.0H996.8M996.8 602.0H994.6V627.0H996.8M996.8 577.0H992.7V614.5H994.6M991.2 458.2H984.3V533.2H989.2M984.3 495.7H980.6V595.7H992.7M948.3 242.5H892.4V545.7H980.6" stroke="#111" stroke-width="2" fill="none" stroke-linejoin="miter"/>
<text x="1541.3" y="129.8" font-size="28.6" text-anchor="start" fill="#dca32c">BRD4_Rep1</text>
<text x="1541.3" y="154.8" font-size="28.6" text-anchor="start" fill="#dca32c">BRD4_Rep2</text>
<text x="1541.3" y="179.8" font-size="28.6" text-anchor="start" fill="#dca32c">BRD4_Rep3</text>
<text x="1541.3" y="204.8" font-size="28.6" text-anchor="start" fill="#4a4a4a">P65_Rep1</text>
<text x="1541.3" y="229.8" font-size="28.6" text-anchor="start" fill="#4a4a4a">P65_Rep2</text>
<text x="1541.3" y="254.9" font-size="28.6" text-anchor="start" fill="#4a4a4a">P65_Rep3</text>
<text x="1541.3" y="279.9" font-size="28.6" text-anchor="start" fill="#c2171d">MED15_Rep1</text>
<text x="1541.3" y="304.9" font-size="28.6" text-anchor="start" fill="#c2171d">MED15_Rep2</text>
<text x="1541.3" y="329.9" font-size="28.6" text-anchor="start" fill="#c2171d">MED15_Rep3</text>
<text x="1541.3" y="354.9" font-size="28.6" text-anchor="start" fill="#a01a58">EP300_Rep1</text>
<text x="1541.3" y="379.9" font-size="28.6" text-anchor="start" fill="#a01a58">EP300_Rep2</text>
<text x="1541.3" y="404.9" font-size="28.6" text-anchor="start" fill="#a01a58">EP300_Rep3</text>
<text x="1541.3" y="429.9" font-size="28.6" text-anchor="start" fill="#bda030">MLL3_Rep1</text>
<text x="1541.3" y="454.9" font-size="28.6" text-anchor="start" fill="#bda030">MLL3_Rep2</text>
<text x="1541.3" y="479.9" font-size="28.6" text-anchor="start" fill="#bda030">MLL3_Rep3</text>
<text x="1541.3" y="505.0" font-size="28.6" text-anchor="start" fill="#4a7ec0">EMSY_Rep1</text>
<text x="1541.3" y="530.0" font-size="28.6" text-anchor="start" fill="#4a7ec0">EMSY_Rep2</text>
<text x="1541.3" y="555.0" font-size="28.6" text-anchor="start" fill="#4a7ec0">EMSY_Rep3</text>
<text x="1541.3" y="580.0" font-size="28.6" text-anchor="start" fill="#5fba3e">GFP_Rep1</text>
<text x="1541.3" y="605.0" font-size="28.6" text-anchor="start" fill="#5fba3e">GFP_Rep2</text>
<text x="1541.3" y="630.0" font-size="28.6" text-anchor="start" fill="#5fba3e">GFP_Rep3</text>
</g>
<g id="panel-b">
<text x="2.5" y="734.6" font-size="34" text-anchor="start" fill="#111" font-weight="bold">b</text>
<text x="254" y="746.6" font-size="29" text-anchor="start" fill="#111" stroke="#111">20 bases</text>
<path d="M383.7 740H571.6M383.7 733V747M571.6 733V747" stroke="#111" stroke-width="1.8" fill="none"/>
<text transform="translate(98.7 778.3) scale(0.395 1)" font-size="28" text-anchor="middle" fill="#111" stroke="#111" stroke-width="0.75" vector-effect="non-scaling-stroke" x="11.9 35.8 59.7 83.6 107.5 131.4 155.3 179.2 203.1 227.0 250.9 274.8 298.7 322.5 346.4 370.3 394.2 418.1 442.0 465.9 489.8 513.7 537.6 561.5 585.4 609.3 633.1 657.0 680.9 704.8 728.7 752.6 776.5 800.4 824.3 848.2 872.1 896.0 919.9 943.8 967.6 991.5 1015.4 1039.3 1063.2 1087.1 1111.0 1134.9 1158.8 1182.7 1206.6 1230.5 1254.4 1278.2 1302.1 1326.0 1349.9 1373.8">AAGTGATGGCTTCCCAGCCTCTTGCTGCTCCAATATCCCAGCTAGGAAGCTCCCTCTG</text>
<text transform="translate(98.7 778.3) scale(0.395 1)" font-size="28" text-anchor="middle" fill="#e0202a" stroke="#e0202a" stroke-width="0.75" vector-effect="non-scaling-stroke" x="1397.7 1421.6 1445.5 1469.4 1493.3 1517.2 1541.1 1565.0">TATATATA</text>
<text transform="translate(98.7 778.3) scale(0.395 1)" font-size="28" text-anchor="middle" fill="#111" stroke="#111" stroke-width="0.75" vector-effect="non-scaling-stroke" x="1588.8 1612.7 1636.6 1660.5 1684.4 1708.3 1732.2 1756.1 1780.0 1803.9 1827.8 1851.7 1875.6 1899.4">GAGTCCTTGCCCTT</text>
<path d="M645 782.1H722.3" stroke="#e0202a" stroke-width="2"/>
<text x="83.8" y="805.2" font-size="28" text-anchor="end" fill="#2a2b7c">MMP1</text>
<path d="M114 795.3H856" stroke="#2a2b7c" stroke-width="12"/>
<path d="M92.6 795.7L114.6 782.7V808.7Z" fill="#fff" stroke="#2a2b7c" stroke-width="4"/>
<path d="M129.9 830.4h8.8v1.6h-8.8zM224.3 830.4h8.8v1.6h-8.8zM290.4 830.4h8.8v1.6h-8.8zM318.7 830.4h169.3v1.6h-169.3zM507.4 830.4h8.8v1.6h-8.8zM582.9 830.4h8.8v1.6h-8.8zM611.2 830.4h8.8v1.6h-8.8zM630.1 830.4h8.8v1.6h-8.8zM649.0 830.4h84.3v1.6h-84.3zM752.8 830.4h18.3v1.6h-18.3zM847.2 830.4h8.8v1.6h-8.8z" fill="#555555" fill-opacity="0.85"/>
<path d="M403.3 830.4h9.44v4.8h-9.44zM412.7 830.4h9.44v46.8h-9.44zM422.2 830.4h9.44v4.8h-9.44zM431.6 830.4h9.44v32.7h-9.44zM441.1 830.4h9.44v10h-9.44z" fill="#555555"/>
<path d="M129.9 912.0h18.3v1.6h-18.3zM233.7 912.0h8.8v1.6h-8.8zM280.9 912.0h8.8v1.6h-8.8zM309.2 912.0h178.7v1.6h-178.7zM620.7 912.0h18.3v1.6h-18.3zM649.0 912.0h8.8v1.6h-8.8zM667.8 912.0h46.6v1.6h-46.6zM724.5 912.0h8.8v1.6h-8.8zM752.8 912.0h18.3v1.6h-18.3z" fill="#d3212b" fill-opacity="0.85"/>
<path d="M403.3 912.0h9.44v4.8h-9.44zM412.7 912.0h9.44v65.5h-9.44zM422.2 912.0h9.44v4.8h-9.44zM431.6 912.0h9.44v50h-9.44zM441.1 912.0h9.44v12h-9.44z" fill="#d3212b"/>
<path d="M158.2 993.6h8.8v1.6h-8.8zM271.5 993.6h8.8v1.6h-8.8zM309.2 993.6h169.3v1.6h-169.3zM498.0 993.6h8.8v1.6h-8.8zM601.8 993.6h8.8v1.6h-8.8zM630.1 993.6h8.8v1.6h-8.8zM649.0 993.6h8.8v1.6h-8.8zM667.8 993.6h8.8v1.6h-8.8zM686.7 993.6h27.7v1.6h-27.7zM724.5 993.6h8.8v1.6h-8.8zM752.8 993.6h18.3v1.6h-18.3zM781.1 993.6h8.8v1.6h-8.8z" fill="#b5286a" fill-opacity="0.85"/>
<path d="M412.7 993.6h9.44v4.6h-9.44zM431.6 993.6h9.44v3.5h-9.44z" fill="#b5286a"/>
<path d="M299.8 1075.2h8.8v1.6h-8.8zM318.7 1075.2h27.7v1.6h-27.7zM356.4 1075.2h8.8v1.6h-8.8zM384.7 1075.2h74.9v1.6h-74.9zM630.1 1075.2h8.8v1.6h-8.8zM649.0 1075.2h8.8v1.6h-8.8zM686.7 1075.2h8.8v1.6h-8.8zM705.6 1075.2h8.8v1.6h-8.8z" fill="#e6a32f" fill-opacity="0.85"/>
<path d="M412.7 1075.2h9.44v2.6h-9.44zM431.6 1075.2h9.44v2.6h-9.44z" fill="#e6a32f"/>
<path d="M158.2 1156.8h8.8v1.6h-8.8zM365.9 1156.8h8.8v1.6h-8.8zM384.7 1156.8h18.3v1.6h-18.3zM413.0 1156.8h46.6v1.6h-46.6zM649.0 1156.8h8.8v1.6h-8.8zM686.7 1156.8h8.8v1.6h-8.8zM705.6 1156.8h8.8v1.6h-8.8zM733.9 1156.8h8.8v1.6h-8.8z" fill="#c4a83a" fill-opacity="0.85"/>
<path d="M403.6 1238.4h46.6v1.6h-46.6zM649.0 1238.4h8.8v1.6h-8.8zM686.7 1238.4h8.8v1.6h-8.8zM705.6 1238.4h18.3v1.6h-18.3zM781.1 1238.4h8.8v1.6h-8.8z" fill="#4a8dd4" fill-opacity="0.85"/>
<path d="M290.4 1320.0h8.8v1.6h-8.8zM337.5 1320.0h18.3v1.6h-18.3zM375.3 1320.0h8.8v1.6h-8.8zM403.6 1320.0h18.3v1.6h-18.3zM431.9 1320.0h27.7v1.6h-27.7zM667.8 1320.0h8.8v1.6h-8.8zM686.7 1320.0h8.8v1.6h-8.8z" fill="#5fc046" fill-opacity="0.85"/>
<text x="49" y="906.6" font-size="29" text-anchor="start" fill="#4d4d4d">380<tspan dy="-1.2" fill-opacity="0.75">_</tspan></text>
<text x="49" y="987.9" font-size="29" text-anchor="start" fill="#c2171d">380<tspan dy="-1.2" fill-opacity="0.75">_</tspan></text>
<text x="49" y="1069.1" font-size="29" text-anchor="start" fill="#a01a58">380<tspan dy="-1.2" fill-opacity="0.75">_</tspan></text>
<text x="49" y="1150.3" font-size="29" text-anchor="start" fill="#dca32c">380<tspan dy="-1.2" fill-opacity="0.75">_</tspan></text>
<text x="49" y="1231.6" font-size="29" text-anchor="start" fill="#bda030">380<tspan dy="-1.2" fill-opacity="0.75">_</tspan></text>
<text x="49" y="1312.8" font-size="29" text-anchor="start" fill="#4a7ec0">380<tspan dy="-1.2" fill-opacity="0.75">_</tspan></text>
<text x="49" y="1394.1" font-size="29" text-anchor="start" fill="#5fba3e">380<tspan dy="-1.2" fill-opacity="0.75">_</tspan></text>
<text x="1247" y="746.6" font-size="29" text-anchor="start" fill="#111" stroke="#111">20 bases</text>
<path d="M1376.3 740H1556.3M1376.3 733V747M1556.3 733V747" stroke="#111" stroke-width="1.8" fill="none"/>
<text x="1612.5" y="746.6" font-size="29.3" text-anchor="start" fill="#1b6b37">CpG Island</text>
<path d="M1020.8 768.8L1043.6 756V761H1784V756L1806.8 768.8L1784 782V776.8H1043.6V782Z" fill="#1b6b37"/>
<text x="1011.3" y="808.5" font-size="27.8" text-anchor="end" fill="#2a2b7c">CIZ1</text>
<path d="M1043 796.6H1656.5" stroke="#2a2b7c" stroke-width="11.6"/>
<path d="M1021.4 796.8L1043.5 784.2V809.4Z" fill="#fff" stroke="#2a2b7c" stroke-width="4"/>
<path d="M1226.4 830.3h26.4v1.6h-26.4zM1262.4 830.3h17.4v1.6h-17.4zM1289.5 830.3h26.4v1.6h-26.4zM1334.5 830.3h8.4v1.6h-8.4zM1352.6 830.3h8.4v1.6h-8.4zM1379.6 830.3h26.4v1.6h-26.4zM1415.7 830.3h8.4v1.6h-8.4zM1460.8 830.3h17.4v1.6h-17.4zM1487.8 830.3h17.4v1.6h-17.4zM1559.9 830.3h44.5v1.6h-44.5z" fill="#555555" fill-opacity="0.85"/>
<path d="M1226.1 830.3h9.02v3h-9.02zM1235.1 830.3h9.02v3h-9.02zM1244.1 830.3h9.02v29.6h-9.02zM1262.1 830.3h9.02v4.5h-9.02zM1271.1 830.3h9.02v8.5h-9.02zM1289.2 830.3h9.02v5h-9.02zM1298.2 830.3h9.02v9.6h-9.02zM1307.2 830.3h9.02v8h-9.02zM1379.3 830.3h9.02v3.7h-9.02zM1397.4 830.3h9.02v10.8h-9.02zM1415.4 830.3h9.02v5h-9.02zM1469.5 830.3h9.02v8h-9.02zM1496.5 830.3h9.02v3h-9.02zM1559.6 830.3h9.02v3.7h-9.02zM1568.6 830.3h9.02v8.8h-9.02zM1577.7 830.3h9.02v5h-9.02zM1586.7 830.3h9.02v8h-9.02z" fill="#555555"/>
<path d="M1235.4 912.6h17.4v1.6h-17.4zM1262.4 912.6h17.4v1.6h-17.4zM1289.5 912.6h44.5v1.6h-44.5zM1388.6 912.6h17.4v1.6h-17.4zM1451.7 912.6h8.4v1.6h-8.4zM1469.8 912.6h8.4v1.6h-8.4zM1487.8 912.6h17.4v1.6h-17.4zM1559.9 912.6h35.5v1.6h-35.5z" fill="#d3212b" fill-opacity="0.85"/>
<path d="M1244.1 912.6h9.02v14.4h-9.02zM1271.1 912.6h9.02v8.5h-9.02zM1289.2 912.6h9.02v3.7h-9.02zM1307.2 912.6h9.02v3.7h-9.02zM1397.4 912.6h9.02v3.7h-9.02zM1496.5 912.6h9.02v3h-9.02zM1568.6 912.6h9.02v9.4h-9.02zM1577.7 912.6h9.02v7.4h-9.02zM1586.7 912.6h9.02v3h-9.02z" fill="#d3212b"/>
<path d="M1226.4 994.9h197.7v1.6h-197.7zM1451.7 994.9h71.5v1.6h-71.5zM1532.9 994.9h62.5v1.6h-62.5zM1605.0 994.9h8.4v1.6h-8.4z" fill="#b5286a" fill-opacity="0.85"/>
<path d="M1235.1 994.9h9.02v4.5h-9.02zM1244.1 994.9h9.02v41.8h-9.02zM1262.1 994.9h9.02v3.7h-9.02zM1271.1 994.9h9.02v27.8h-9.02zM1289.2 994.9h9.02v5.7h-9.02zM1298.2 994.9h9.02v17.3h-9.02zM1307.2 994.9h9.02v10.8h-9.02zM1316.2 994.9h9.02v14.8h-9.02zM1379.3 994.9h9.02v7.4h-9.02zM1397.4 994.9h9.02v35h-9.02zM1415.4 994.9h9.02v4.5h-9.02zM1469.5 994.9h9.02v12h-9.02zM1487.5 994.9h9.02v5.7h-9.02zM1496.5 994.9h9.02v9.4h-9.02zM1550.6 994.9h9.02v2.5h-9.02zM1559.6 994.9h9.02v3h-9.02zM1568.6 994.9h9.02v25h-9.02zM1577.7 994.9h9.02v15.3h-9.02zM1586.7 994.9h9.02v15.3h-9.02z" fill="#b5286a"/>
<path d="M1226.4 1077.2h8.4v1.6h-8.4zM1244.4 1077.2h17.4v1.6h-17.4zM1271.4 1077.2h8.4v1.6h-8.4zM1298.5 1077.2h26.4v1.6h-26.4zM1379.6 1077.2h8.4v1.6h-8.4zM1397.7 1077.2h8.4v1.6h-8.4zM1415.7 1077.2h8.4v1.6h-8.4zM1469.8 1077.2h8.4v1.6h-8.4zM1568.9 1077.2h26.4v1.6h-26.4z" fill="#e6a32f" fill-opacity="0.85"/>
<path d="M1226.1 1077.2h9.02v2.5h-9.02zM1253.1 1077.2h9.02v2.5h-9.02zM1298.2 1077.2h9.02v4.5h-9.02zM1379.3 1077.2h9.02v2h-9.02zM1397.4 1077.2h9.02v5.7h-9.02zM1469.5 1077.2h9.02v7h-9.02zM1568.6 1077.2h9.02v12.2h-9.02zM1577.7 1077.2h9.02v3.7h-9.02zM1586.7 1077.2h9.02v3.7h-9.02z" fill="#e6a32f"/>
<path d="M1226.4 1159.5h116.6v1.6h-116.6zM1352.6 1159.5h71.5v1.6h-71.5zM1433.7 1159.5h17.4v1.6h-17.4zM1460.8 1159.5h71.5v1.6h-71.5zM1559.9 1159.5h44.5v1.6h-44.5zM1650.1 1159.5h8.4v1.6h-8.4z" fill="#c4a83a" fill-opacity="0.85"/>
<path d="M1226.1 1159.5h9.02v3.7h-9.02zM1235.1 1159.5h9.02v8h-9.02zM1244.1 1159.5h9.02v57.6h-9.02zM1253.1 1159.5h9.02v3.5h-9.02zM1262.1 1159.5h9.02v3.5h-9.02zM1271.1 1159.5h9.02v22.7h-9.02zM1289.2 1159.5h9.02v9.4h-9.02zM1298.2 1159.5h9.02v21.3h-9.02zM1307.2 1159.5h9.02v17.3h-9.02zM1316.2 1159.5h9.02v17.3h-9.02zM1379.3 1159.5h9.02v8h-9.02zM1388.3 1159.5h9.02v3.5h-9.02zM1397.4 1159.5h9.02v49.7h-9.02zM1406.4 1159.5h9.02v3h-9.02zM1460.5 1159.5h9.02v2.8h-9.02zM1469.5 1159.5h9.02v20.2h-9.02zM1487.5 1159.5h9.02v4.5h-9.02zM1496.5 1159.5h9.02v8.2h-9.02zM1505.5 1159.5h9.02v2.3h-9.02zM1559.6 1159.5h9.02v2.8h-9.02zM1568.6 1159.5h9.02v27.3h-9.02zM1577.7 1159.5h9.02v12.2h-9.02zM1586.7 1159.5h9.02v9.4h-9.02z" fill="#c4a83a"/>
<path d="M1226.4 1241.8h98.6v1.6h-98.6zM1397.7 1241.8h17.4v1.6h-17.4zM1469.8 1241.8h8.4v1.6h-8.4zM1487.8 1241.8h17.4v1.6h-17.4zM1514.8 1241.8h8.4v1.6h-8.4zM1568.9 1241.8h26.4v1.6h-26.4z" fill="#4a8dd4" fill-opacity="0.85"/>
<path d="M1244.1 1241.8h9.02v12h-9.02zM1271.1 1241.8h9.02v5.4h-9.02zM1307.2 1241.8h9.02v4.3h-9.02zM1397.4 1241.8h9.02v12h-9.02zM1469.5 1241.8h9.02v3.4h-9.02zM1496.5 1241.8h9.02v4.3h-9.02zM1568.6 1241.8h9.02v9h-9.02z" fill="#4a8dd4"/>
<path d="M1226.4 1324.1h8.4v1.6h-8.4zM1244.4 1324.1h80.5v1.6h-80.5zM1334.5 1324.1h8.4v1.6h-8.4zM1370.6 1324.1h35.5v1.6h-35.5zM1415.7 1324.1h8.4v1.6h-8.4zM1433.7 1324.1h8.4v1.6h-8.4zM1469.8 1324.1h8.4v1.6h-8.4zM1487.8 1324.1h17.4v1.6h-17.4zM1568.9 1324.1h26.4v1.6h-26.4z" fill="#5fc046" fill-opacity="0.85"/>
<path d="M1244.1 1324.1h9.02v13.6h-9.02zM1271.1 1324.1h9.02v7.4h-9.02zM1307.2 1324.1h9.02v2.6h-9.02zM1397.4 1324.1h9.02v5.4h-9.02zM1496.5 1324.1h9.02v2.3h-9.02zM1568.6 1324.1h9.02v6.5h-9.02zM1586.7 1324.1h9.02v2.8h-9.02z" fill="#5fc046"/>
<text x="944.5" y="874.2" font-size="29" text-anchor="middle" fill="#4d4d4d">P65</text>
<text x="1771" y="904.8" font-size="29" text-anchor="start" fill="#4d4d4d"><tspan fill-opacity="0.75">_</tspan><tspan dy="1.2">7</tspan></text>
<text x="944.5" y="955.8" font-size="29" text-anchor="middle" fill="#c2171d">MED15</text>
<text x="1771" y="985.9" font-size="29" text-anchor="start" fill="#c2171d"><tspan fill-opacity="0.75">_</tspan><tspan dy="1.2">7</tspan></text>
<text x="944.5" y="1037.3" font-size="29" text-anchor="middle" fill="#a01a58">EP300</text>
<text x="1771" y="1067.0" font-size="29" text-anchor="start" fill="#a01a58"><tspan fill-opacity="0.75">_</tspan><tspan dy="1.2">7</tspan></text>
<text x="944.5" y="1118.8" font-size="29" text-anchor="middle" fill="#dca32c">BRD4</text>
<text x="1771" y="1148.1" font-size="29" text-anchor="start" fill="#dca32c"><tspan fill-opacity="0.75">_</tspan><tspan dy="1.2">7</tspan></text>
<text x="944.5" y="1200.4" font-size="29" text-anchor="middle" fill="#bda030">MLL3</text>
<text x="1771" y="1229.2" font-size="29" text-anchor="start" fill="#bda030"><tspan fill-opacity="0.75">_</tspan><tspan dy="1.2">7</tspan></text>
<text x="944.5" y="1282.0" font-size="29" text-anchor="middle" fill="#4a7ec0">EMSY</text>
<text x="1771" y="1310.3" font-size="29" text-anchor="start" fill="#4a7ec0"><tspan fill-opacity="0.75">_</tspan><tspan dy="1.2">7</tspan></text>
<text x="944.5" y="1363.5" font-size="29" text-anchor="middle" fill="#5fba3e">GFP</text>
<text x="1771" y="1391.4" font-size="29" text-anchor="start" fill="#5fba3e"><tspan fill-opacity="0.75">_</tspan><tspan dy="1.2">7</tspan></text>
</g>
<g id="panel-d">
<text x="2" y="1492" font-size="34" text-anchor="start" fill="#111" font-weight="bold">d</text>
<text x="102.2" y="1850" font-size="29.3" text-anchor="middle" fill="#111" stroke="#111" transform="rotate(-90 102.2 1850)">CPs sorted by MED15 vs. MLL3 STAP-seq ratio</text>
<rect x="133.4" y="1495.5" width="35.4" height="726.9" fill="url(#gR)"/>
<path d="M133.4 1502h35.4v2h-35.4zM133.4 1511h35.4v3h-35.4zM133.4 1525h35.4v2h-35.4zM133.4 1546h35.4v2h-35.4zM133.4 1549h35.4v1h-35.4zM133.4 1550h35.4v2h-35.4zM133.4 1562h35.4v1h-35.4zM133.4 1564h35.4v2h-35.4zM133.4 1569h35.4v2h-35.4zM133.4 1571h35.4v2h-35.4zM133.4 1585h35.4v1h-35.4zM133.4 1594h35.4v1h-35.4zM133.4 1597h35.4v2h-35.4zM133.4 1606h35.4v1h-35.4zM133.4 1614h35.4v1h-35.4zM133.4 1620h35.4v2h-35.4zM133.4 1635h35.4v3h-35.4zM133.4 1652h35.4v2h-35.4zM133.4 1667h35.4v3h-35.4zM133.4 1674h35.4v1h-35.4zM133.4 1684h35.4v2h-35.4zM133.4 1696h35.4v1h-35.4zM133.4 1709h35.4v1h-35.4zM133.4 1714h35.4v1h-35.4zM133.4 1731h35.4v2h-35.4zM133.4 1743h35.4v2h-35.4zM133.4 1745h35.4v3h-35.4zM133.4 1748h35.4v2h-35.4zM133.4 1761h35.4v1h-35.4zM133.4 1763h35.4v1h-35.4zM133.4 1780h35.4v2h-35.4zM133.4 1796h35.4v1h-35.4zM133.4 1802h35.4v2h-35.4zM133.4 1806h35.4v2h-35.4zM133.4 1808h35.4v3h-35.4zM133.4 1813h35.4v3h-35.4zM133.4 1829h35.4v1h-35.4zM133.4 1837h35.4v1h-35.4zM133.4 1861h35.4v1h-35.4zM133.4 1867h35.4v2h-35.4zM133.4 1870h35.4v1h-35.4zM133.4 1877h35.4v2h-35.4zM133.4 1883h35.4v1h-35.4zM133.4 1894h35.4v1h-35.4zM133.4 1899h35.4v2h-35.4zM133.4 1902h35.4v1h-35.4zM133.4 1907h35.4v1h-35.4zM133.4 1912h35.4v2h-35.4zM133.4 1918h35.4v1h-35.4zM133.4 1947h35.4v3h-35.4zM133.4 1950h35.4v1h-35.4zM133.4 1957h35.4v3h-35.4zM133.4 1970h35.4v3h-35.4zM133.4 1977h35.4v1h-35.4zM133.4 1980h35.4v2h-35.4zM133.4 1986h35.4v1h-35.4zM133.4 1999h35.4v3h-35.4zM133.4 2002h35.4v1h-35.4zM133.4 2012h35.4v3h-35.4zM133.4 2015h35.4v1h-35.4zM133.4 2067h35.4v1h-35.4zM133.4 2087h35.4v2h-35.4zM133.4 2091h35.4v2h-35.4zM133.4 2098h35.4v2h-35.4zM133.4 2102h35.4v2h-35.4zM133.4 2133h35.4v1h-35.4zM133.4 2151h35.4v1h-35.4zM133.4 2152h35.4v3h-35.4zM133.4 2164h35.4v2h-35.4zM133.4 2192h35.4v1h-35.4zM133.4 2193h35.4v1h-35.4zM133.4 2201h35.4v1h-35.4zM133.4 2202h35.4v2h-35.4z" fill="#a00" opacity="0.12"/>
<path d="M133.4 1517h35.4v1h-35.4zM133.4 1520h35.4v1h-35.4zM133.4 1532h35.4v3h-35.4zM133.4 1535h35.4v1h-35.4zM133.4 1537h35.4v3h-35.4zM133.4 1559h35.4v2h-35.4zM133.4 1566h35.4v1h-35.4zM133.4 1568h35.4v1h-35.4zM133.4 1578h35.4v2h-35.4zM133.4 1584h35.4v1h-35.4zM133.4 1595h35.4v2h-35.4zM133.4 1599h35.4v1h-35.4zM133.4 1610h35.4v3h-35.4zM133.4 1615h35.4v2h-35.4zM133.4 1622h35.4v1h-35.4zM133.4 1627h35.4v1h-35.4zM133.4 1654h35.4v3h-35.4zM133.4 1657h35.4v2h-35.4zM133.4 1659h35.4v1h-35.4zM133.4 1683h35.4v1h-35.4zM133.4 1688h35.4v1h-35.4zM133.4 1703h35.4v1h-35.4zM133.4 1706h35.4v2h-35.4zM133.4 1713h35.4v1h-35.4zM133.4 1723h35.4v2h-35.4zM133.4 1733h35.4v3h-35.4zM133.4 1736h35.4v3h-35.4zM133.4 1739h35.4v1h-35.4zM133.4 1750h35.4v3h-35.4zM133.4 1756h35.4v3h-35.4zM133.4 1801h35.4v1h-35.4zM133.4 1816h35.4v2h-35.4zM133.4 1819h35.4v3h-35.4zM133.4 1826h35.4v3h-35.4zM133.4 1842h35.4v2h-35.4zM133.4 1862h35.4v1h-35.4zM133.4 1881h35.4v1h-35.4zM133.4 1891h35.4v3h-35.4zM133.4 1951h35.4v3h-35.4zM133.4 1954h35.4v3h-35.4zM133.4 1964h35.4v3h-35.4zM133.4 1967h35.4v2h-35.4zM133.4 1969h35.4v1h-35.4zM133.4 1984h35.4v2h-35.4zM133.4 1987h35.4v3h-35.4zM133.4 1992h35.4v1h-35.4zM133.4 1994h35.4v1h-35.4zM133.4 2003h35.4v3h-35.4zM133.4 2042h35.4v1h-35.4zM133.4 2046h35.4v2h-35.4zM133.4 2055h35.4v1h-35.4zM133.4 2059h35.4v2h-35.4zM133.4 2068h35.4v1h-35.4zM133.4 2084h35.4v2h-35.4zM133.4 2094h35.4v2h-35.4zM133.4 2105h35.4v1h-35.4zM133.4 2135h35.4v1h-35.4zM133.4 2138h35.4v2h-35.4zM133.4 2141h35.4v3h-35.4zM133.4 2159h35.4v1h-35.4zM133.4 2160h35.4v3h-35.4zM133.4 2166h35.4v3h-35.4zM133.4 2170h35.4v2h-35.4zM133.4 2219h35.4v2h-35.4z" fill="#fff" opacity="0.12"/>
<rect x="133.4" y="1495.4" width="35.4" height="726.9" fill="none" stroke="#111" stroke-width="2.4"/>
<rect x="177.9" y="1495.5" width="35.4" height="726.9" fill="url(#gY)"/>
<path d="M177.9 1497h35.4v3h-35.4zM177.9 1515h35.4v2h-35.4zM177.9 1524h35.4v2h-35.4zM177.9 1536h35.4v2h-35.4zM177.9 1541h35.4v3h-35.4zM177.9 1544h35.4v1h-35.4zM177.9 1545h35.4v2h-35.4zM177.9 1547h35.4v2h-35.4zM177.9 1552h35.4v1h-35.4zM177.9 1553h35.4v1h-35.4zM177.9 1568h35.4v2h-35.4zM177.9 1570h35.4v3h-35.4zM177.9 1573h35.4v3h-35.4zM177.9 1578h35.4v3h-35.4zM177.9 1585h35.4v1h-35.4zM177.9 1586h35.4v3h-35.4zM177.9 1589h35.4v1h-35.4zM177.9 1592h35.4v1h-35.4zM177.9 1593h35.4v2h-35.4zM177.9 1596h35.4v1h-35.4zM177.9 1605h35.4v1h-35.4zM177.9 1611h35.4v2h-35.4zM177.9 1630h35.4v2h-35.4zM177.9 1632h35.4v2h-35.4zM177.9 1642h35.4v2h-35.4zM177.9 1645h35.4v2h-35.4zM177.9 1650h35.4v3h-35.4zM177.9 1653h35.4v1h-35.4zM177.9 1657h35.4v2h-35.4zM177.9 1659h35.4v3h-35.4zM177.9 1662h35.4v2h-35.4zM177.9 1664h35.4v2h-35.4zM177.9 1669h35.4v2h-35.4zM177.9 1675h35.4v2h-35.4zM177.9 1677h35.4v2h-35.4zM177.9 1679h35.4v2h-35.4zM177.9 1682h35.4v2h-35.4zM177.9 1690h35.4v1h-35.4zM177.9 1691h35.4v2h-35.4zM177.9 1695h35.4v2h-35.4zM177.9 1713h35.4v1h-35.4zM177.9 1717h35.4v2h-35.4zM177.9 1724h35.4v1h-35.4zM177.9 1725h35.4v1h-35.4zM177.9 1726h35.4v2h-35.4zM177.9 1730h35.4v3h-35.4zM177.9 1734h35.4v3h-35.4zM177.9 1737h35.4v1h-35.4zM177.9 1741h35.4v2h-35.4zM177.9 1769h35.4v1h-35.4zM177.9 1780h35.4v1h-35.4zM177.9 1785h35.4v1h-35.4zM177.9 1793h35.4v1h-35.4zM177.9 1799h35.4v3h-35.4zM177.9 1804h35.4v2h-35.4zM177.9 1806h35.4v1h-35.4zM177.9 1816h35.4v2h-35.4zM177.9 1818h35.4v3h-35.4zM177.9 1821h35.4v3h-35.4zM177.9 1827h35.4v2h-35.4zM177.9 1848h35.4v1h-35.4zM177.9 1850h35.4v3h-35.4zM177.9 1853h35.4v2h-35.4zM177.9 1858h35.4v2h-35.4zM177.9 1866h35.4v1h-35.4zM177.9 1868h35.4v1h-35.4zM177.9 1878h35.4v1h-35.4zM177.9 1887h35.4v1h-35.4zM177.9 1892h35.4v1h-35.4zM177.9 1896h35.4v2h-35.4zM177.9 1900h35.4v1h-35.4zM177.9 1912h35.4v2h-35.4zM177.9 1917h35.4v1h-35.4zM177.9 1921h35.4v1h-35.4zM177.9 1947h35.4v2h-35.4zM177.9 1949h35.4v3h-35.4zM177.9 1954h35.4v1h-35.4zM177.9 1983h35.4v3h-35.4zM177.9 1986h35.4v1h-35.4zM177.9 1987h35.4v1h-35.4zM177.9 1991h35.4v2h-35.4zM177.9 1998h35.4v1h-35.4zM177.9 2005h35.4v2h-35.4zM177.9 2008h35.4v2h-35.4zM177.9 2022h35.4v3h-35.4zM177.9 2032h35.4v1h-35.4zM177.9 2044h35.4v1h-35.4zM177.9 2062h35.4v1h-35.4zM177.9 2068h35.4v1h-35.4zM177.9 2085h35.4v2h-35.4zM177.9 2088h35.4v2h-35.4zM177.9 2092h35.4v1h-35.4zM177.9 2097h35.4v2h-35.4zM177.9 2107h35.4v1h-35.4zM177.9 2108h35.4v2h-35.4zM177.9 2127h35.4v2h-35.4zM177.9 2133h35.4v1h-35.4zM177.9 2140h35.4v1h-35.4zM177.9 2159h35.4v2h-35.4zM177.9 2168h35.4v3h-35.4zM177.9 2171h35.4v1h-35.4zM177.9 2175h35.4v2h-35.4zM177.9 2202h35.4v3h-35.4z" fill="#b0a320" opacity="0.3"/>
<path d="M177.9 1503h35.4v1h-35.4zM177.9 1504h35.4v1h-35.4zM177.9 1508h35.4v3h-35.4zM177.9 1518h35.4v1h-35.4zM177.9 1521h35.4v1h-35.4zM177.9 1529h35.4v2h-35.4zM177.9 1534h35.4v2h-35.4zM177.9 1538h35.4v3h-35.4zM177.9 1554h35.4v2h-35.4zM177.9 1561h35.4v3h-35.4zM177.9 1564h35.4v2h-35.4zM177.9 1576h35.4v2h-35.4zM177.9 1581h35.4v2h-35.4zM177.9 1583h35.4v2h-35.4zM177.9 1595h35.4v1h-35.4zM177.9 1599h35.4v1h-35.4zM177.9 1603h35.4v2h-35.4zM177.9 1610h35.4v1h-35.4zM177.9 1617h35.4v2h-35.4zM177.9 1644h35.4v1h-35.4zM177.9 1654h35.4v3h-35.4zM177.9 1666h35.4v1h-35.4zM177.9 1700h35.4v2h-35.4zM177.9 1719h35.4v2h-35.4zM177.9 1728h35.4v2h-35.4zM177.9 1760h35.4v3h-35.4zM177.9 1763h35.4v2h-35.4zM177.9 1765h35.4v2h-35.4zM177.9 1790h35.4v2h-35.4zM177.9 1795h35.4v2h-35.4zM177.9 1812h35.4v3h-35.4zM177.9 1824h35.4v3h-35.4zM177.9 1831h35.4v1h-35.4zM177.9 1834h35.4v2h-35.4zM177.9 1865h35.4v1h-35.4zM177.9 1867h35.4v1h-35.4zM177.9 1869h35.4v2h-35.4zM177.9 1873h35.4v1h-35.4zM177.9 1875h35.4v3h-35.4zM177.9 1888h35.4v1h-35.4zM177.9 1898h35.4v2h-35.4zM177.9 1907h35.4v2h-35.4zM177.9 1922h35.4v1h-35.4zM177.9 1923h35.4v1h-35.4zM177.9 1930h35.4v2h-35.4zM177.9 1932h35.4v3h-35.4zM177.9 1941h35.4v1h-35.4zM177.9 1961h35.4v1h-35.4zM177.9 1962h35.4v1h-35.4zM177.9 1964h35.4v1h-35.4zM177.9 1967h35.4v2h-35.4zM177.9 1975h35.4v2h-35.4zM177.9 1978h35.4v1h-35.4zM177.9 1988h35.4v1h-35.4zM177.9 1989h35.4v2h-35.4zM177.9 1993h35.4v2h-35.4zM177.9 2014h35.4v2h-35.4zM177.9 2016h35.4v2h-35.4zM177.9 2020h35.4v1h-35.4zM177.9 2025h35.4v1h-35.4zM177.9 2030h35.4v2h-35.4zM177.9 2035h35.4v2h-35.4zM177.9 2045h35.4v1h-35.4zM177.9 2049h35.4v3h-35.4zM177.9 2052h35.4v1h-35.4zM177.9 2065h35.4v3h-35.4zM177.9 2069h35.4v2h-35.4zM177.9 2077h35.4v1h-35.4zM177.9 2080h35.4v2h-35.4zM177.9 2087h35.4v1h-35.4zM177.9 2093h35.4v1h-35.4zM177.9 2096h35.4v1h-35.4zM177.9 2103h35.4v2h-35.4zM177.9 2110h35.4v2h-35.4zM177.9 2113h35.4v3h-35.4zM177.9 2116h35.4v1h-35.4zM177.9 2120h35.4v2h-35.4zM177.9 2152h35.4v2h-35.4zM177.9 2155h35.4v2h-35.4zM177.9 2157h35.4v1h-35.4zM177.9 2179h35.4v2h-35.4zM177.9 2182h35.4v2h-35.4zM177.9 2190h35.4v3h-35.4zM177.9 2194h35.4v1h-35.4zM177.9 2198h35.4v2h-35.4zM177.9 2200h35.4v2h-35.4zM177.9 2218h35.4v2h-35.4z" fill="#fbf8c0" opacity="0.3"/>
<rect x="177.9" y="1495.4" width="35.4" height="726.9" fill="none" stroke="#111" stroke-width="2.4"/>
<text x="163.5" y="2239.5" font-size="29" text-anchor="end" fill="#111" stroke="#111" transform="rotate(-90 163.5 2239.5)">MED15</text>
<text x="207" y="2239.5" font-size="29" text-anchor="end" fill="#111" stroke="#111" transform="rotate(-90 207 2239.5)">MLL3</text>
<g filter="url(#hf0)"><rect x="246.9" y="1495.5" width="145.4" height="726.9" fill="url(#gm0)"/><rect x="285.3" y="1495.5" width="6" height="726.9" fill="url(#gs0_0w)"/><rect x="318.5" y="1495.5" width="2" height="726.9" fill="url(#gs0_1w)"/></g>
<rect x="246.9" y="1495.5" width="145.4" height="726.9" fill="none" stroke="#1c1c1c" stroke-width="1.5"/>
<path d="M264.8 2222.4v4.6M320.0 2222.4v4.6M373.0 2222.4v4.6" stroke="#2a2a2a" stroke-width="1.4" fill="none"/>
<text x="385.0" y="1523.2" font-size="29" text-anchor="end" fill="#111" stroke="#111">TA</text>
<text x="250.9" y="2260.4" font-size="29" text-anchor="start" fill="#111" stroke="#111">-50</text>
<text x="357.2" y="2260.4" font-size="29" text-anchor="start" fill="#111" stroke="#111">50</text>
<g filter="url(#hf1)"><rect x="424.0" y="1495.5" width="145.6" height="726.9" fill="url(#gm1)"/><rect x="461.3" y="1495.5" width="6" height="726.9" fill="url(#gs1_0w)"/><rect x="495.5" y="1495.5" width="2" height="726.9" fill="url(#gs1_1w)"/></g>
<rect x="424.0" y="1495.5" width="145.6" height="726.9" fill="none" stroke="#1c1c1c" stroke-width="1.5"/>
<path d="M441.9 2222.4v4.6M497.1 2222.4v4.6M550.1 2222.4v4.6" stroke="#2a2a2a" stroke-width="1.4" fill="none"/>
<text x="562.3" y="1523.2" font-size="29" text-anchor="end" fill="#111" stroke="#111">AT</text>
<text x="428.0" y="2260.4" font-size="29" text-anchor="start" fill="#111" stroke="#111">-50</text>
<text x="534.3" y="2260.4" font-size="29" text-anchor="start" fill="#111" stroke="#111">50</text>
<g filter="url(#hf2)"><rect x="602.2" y="1495.5" width="145.0" height="726.9" fill="url(#gm2)"/><rect x="643.1" y="1495.5" width="5" height="726.9" fill="url(#gs2_0w)"/><rect x="673.2" y="1495.5" width="2.5" height="726.9" fill="url(#gs2_1k)"/></g>
<rect x="602.2" y="1495.5" width="145.0" height="726.9" fill="none" stroke="#1c1c1c" stroke-width="1.5"/>
<path d="M620.1 2222.4v4.6M675.3 2222.4v4.6M728.3 2222.4v4.6" stroke="#2a2a2a" stroke-width="1.4" fill="none"/>
<text x="739.9" y="1523.2" font-size="29" text-anchor="end" fill="#111" stroke="#111">AA</text>
<text x="606.2" y="2260.4" font-size="29" text-anchor="start" fill="#111" stroke="#111">-50</text>
<text x="712.5" y="2260.4" font-size="29" text-anchor="start" fill="#111" stroke="#111">50</text>
<g filter="url(#hf3)"><rect x="778.7" y="1495.5" width="145.7" height="726.9" fill="url(#gm3)"/><rect x="818.3" y="1495.5" width="7" height="726.9" fill="url(#gs3_0k)"/><rect x="826.5" y="1495.5" width="22" height="726.9" fill="url(#gs3_1w)"/><rect x="850.5" y="1495.5" width="3" height="726.9" fill="url(#gs3_2k)"/></g>
<rect x="778.7" y="1495.5" width="145.7" height="726.9" fill="none" stroke="#1c1c1c" stroke-width="1.5"/>
<path d="M796.6 2222.4v4.6M851.8 2222.4v4.6M904.8 2222.4v4.6" stroke="#2a2a2a" stroke-width="1.4" fill="none"/>
<text x="917.1" y="1523.2" font-size="29" text-anchor="end" fill="#111" stroke="#111">CG</text>
<text x="782.7" y="2260.4" font-size="29" text-anchor="start" fill="#111" stroke="#111">-50</text>
<text x="889.0" y="2260.4" font-size="29" text-anchor="start" fill="#111" stroke="#111">50</text>
<g filter="url(#hf4)"><rect x="955.9" y="1495.5" width="145.7" height="726.9" fill="url(#gm4)"/><rect x="995.6" y="1495.5" width="6.5" height="726.9" fill="url(#gs4_0k)"/><rect x="1002.0" y="1495.5" width="23" height="726.9" fill="url(#gs4_1w)"/><rect x="1026.2" y="1495.5" width="2.5" height="726.9" fill="url(#gs4_2k)"/></g>
<rect x="955.9" y="1495.5" width="145.7" height="726.9" fill="none" stroke="#1c1c1c" stroke-width="1.5"/>
<path d="M973.8 2222.4v4.6M1029.0 2222.4v4.6M1082.0 2222.4v4.6" stroke="#2a2a2a" stroke-width="1.4" fill="none"/>
<text x="1094.3" y="1523.2" font-size="29" text-anchor="end" fill="#111" stroke="#111">GC</text>
<text x="959.9" y="2260.4" font-size="29" text-anchor="start" fill="#111" stroke="#111">-50</text>
<text x="1066.2" y="2260.4" font-size="29" text-anchor="start" fill="#111" stroke="#111">50</text>
<text x="673" y="2313" font-size="29" text-anchor="middle" fill="#111" stroke="#111">Position relative to TSS (bp)</text>
</g>
</svg>
</body></html>
